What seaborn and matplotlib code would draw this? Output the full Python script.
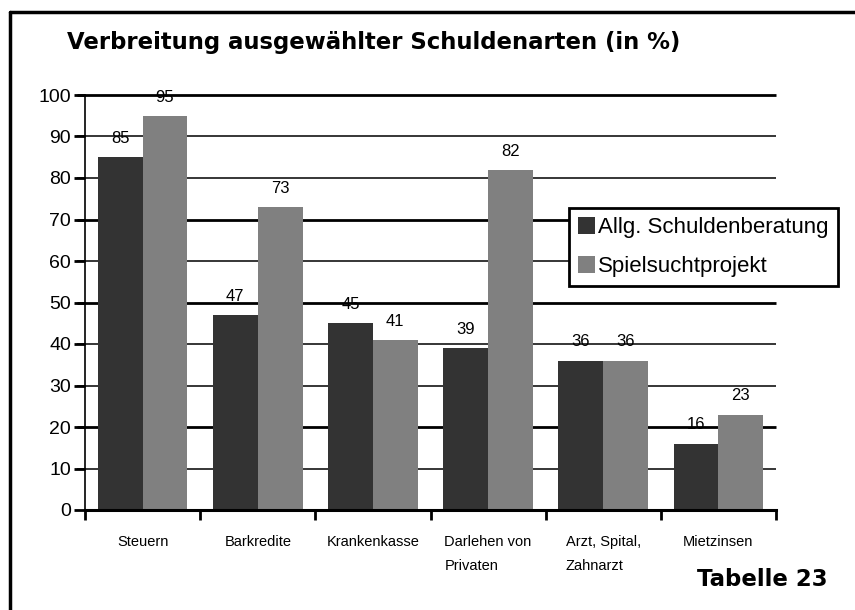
import matplotlib
matplotlib.use("Agg")
import matplotlib.pyplot as plt
from matplotlib.lines import Line2D
import pandas as pd
import seaborn as sns

# data
arten = ["Steuern", "Barkredite", "Krankenkasse", "Darlehen von\nPrivaten",
         "Arzt, Spital,\nZahnarzt", "Mietzinsen"]
allg_schuldenberatung = [85, 47, 45, 39, 36, 16]
spielsuchtprojekt = [95, 73, 41, 82, 36, 23]
gruppen = ["Allg. Schuldenberatung", "Spielsuchtprojekt"]
y_ticks = list(range(0, 101, 10))
thick_lines = [20, 50, 70, 100]

title = "Verbreitung ausgewählter Schuldenarten (in %)"
note = "Tabelle 23"

df = pd.DataFrame({
    "Art": arten * 2,
    "Prozent": allg_schuldenberatung + spielsuchtprojekt,
    "Gruppe": [gruppen[0]] * len(arten) + [gruppen[1]] * len(arten),
})

sns.set_style("white")
regular = ["Liberation Sans", "DejaVu Sans"]
plt.rcParams["font.family"] = regular
for key in ["text.color", "axes.labelcolor", "xtick.color", "ytick.color"]:
    plt.rcParams[key] = "black"

fig = plt.figure(figsize=(8.55, 6.1), dpi=100)
ax = fig.add_axes([85 / 855, 1 - 510 / 610, 691 / 855, 415 / 610])

sns.barplot(data=df, x="Art", y="Prozent", hue="Gruppe",
            palette=["#333333", "#808080"], saturation=1, width=0.78,
            linewidth=0, ax=ax, zorder=3)

ax.set_xlim(-0.5, len(arten) - 0.5)
ax.set_ylim(0, 100)
ax.set_xlabel("")
ax.set_ylabel("")

# gridlines (some heavier, as in the scan), extending left as tick marks
for v in y_ticks[1:]:
    lw = 2.0 if v in thick_lines else 1.1
    ax.hlines(v, -8 / 691, 1.0, transform=ax.get_yaxis_transform(),
              colors="black", linewidth=lw, clip_on=False, zorder=1)

ax.set_yticks(y_ticks)
ax.set_yticklabels([str(v) for v in y_ticks], fontsize=14)
ax.tick_params(axis="y", length=8, width=2.0, color="black", pad=2, left=True)

# category labels at centers, tick marks at boundaries
ax.set_xticks(range(len(arten)))
ax.set_xticklabels(arten, fontsize=10.5, linespacing=1.9,
                   multialignment="left")
ax.tick_params(axis="x", which="major", length=0, pad=18)
ax.set_xticks([i - 0.5 for i in range(len(arten) + 1)], minor=True)
ax.tick_params(axis="x", which="minor", length=7, width=2.0,
               color="black", bottom=True)

for side in ["top", "right"]:
    ax.spines[side].set_visible(False)
ax.spines["left"].set_color("black")
ax.spines["left"].set_linewidth(1.2)
ax.spines["bottom"].set_color("black")
ax.spines["bottom"].set_linewidth(2.2)
ax.spines["bottom"].set_zorder(4)

for container in ax.containers:
    ax.bar_label(container, fmt="%d", padding=8, fontsize=12, zorder=5)

leg = ax.legend(loc="upper left", bbox_to_anchor=(569 / 855, 1 - 208 / 610),
                bbox_transform=fig.transFigure, borderaxespad=0,
                fontsize=16, handlelength=0.75, handleheight=0.75,
                handletextpad=0.12, borderpad=0.42, labelspacing=0.8,
                fancybox=False, frameon=True, framealpha=1)
leg.get_frame().set_edgecolor("black")
leg.get_frame().set_linewidth(2.0)

fig.text(67 / 855, 1 - 43 / 610, title, ha="left", va="center",
         fontsize=16.4, fontweight="bold", family="DejaVu Sans")
fig.text(828 / 855, 1 - 580 / 610, note, ha="right", va="center",
         fontsize=16.5, fontweight="bold", family="DejaVu Sans")

# page frame (top and left edges of the scanned box)
fig.add_artist(Line2D([10 / 855, 1.0], [1 - 12 / 610, 1 - 12 / 610],
                      transform=fig.transFigure, color="black", linewidth=2.5))
fig.add_artist(Line2D([10 / 855, 10 / 855], [0.0, 1 - 12 / 610],
                      transform=fig.transFigure, color="black", linewidth=2.5))

fig.savefig("out.png", dpi=100)
